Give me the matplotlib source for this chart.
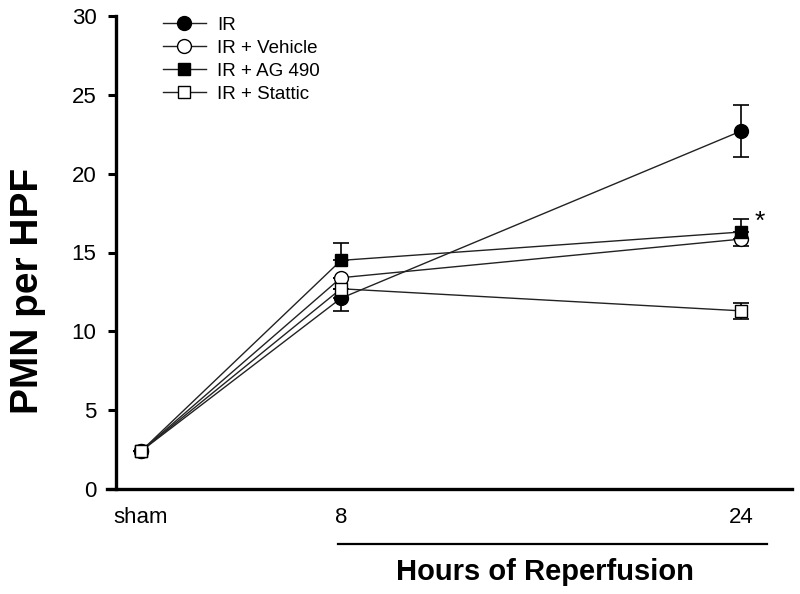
import matplotlib
matplotlib.use("Agg")
import matplotlib.pyplot as plt
import matplotlib.transforms as mtransforms

plt.rcParams['font.family'] = ['Liberation Sans', 'DejaVu Sans']

categories = ["sham", "8", "24"]
xpos = [0, 1, 3]

ir = [2.4, 12.1, 22.7]
ir_lo = [0.0, 0.8, 1.65]
ir_hi = [0.0, 0.0, 1.65]

vehicle = [2.4, 13.4, 15.85]
veh_lo = [0.0, 0.0, 0.45]
veh_hi = [0.0, 0.0, 0.0]

ag490 = [2.4, 14.5, 16.3]
ag_lo = [0.0, 0.0, 0.0]
ag_hi = [0.0, 1.1, 0.8]

stattic = [2.4, 12.7, 11.3]
st_lo = [0.0, 0.0, 0.5]
st_hi = [0.0, 0.0, 0.5]

series = [
    ("IR", ir, ir_lo, ir_hi, "o", "black", 10),
    ("IR + Vehicle", vehicle, veh_lo, veh_hi, "o", "white", 10),
    ("IR + AG 490", ag490, ag_lo, ag_hi, "s", "black", 9),
    ("IR + Stattic", stattic, st_lo, st_hi, "s", "white", 9),
]

fig = plt.figure(figsize=(8, 5.94), dpi=100)
ax = fig.add_axes([116/800, 1 - 489/594, (792 - 116)/800, (489 - 16)/594])

for i, (label, vals, lo, hi, m, fc, ms) in enumerate(series):
    ax.errorbar(xpos, vals, yerr=[lo, hi], fmt='none', ecolor='black',
                elinewidth=1.2, capsize=6, capthick=1.2, zorder=2 + i)
    ax.plot(xpos, vals, color='#222222', lw=1.0, marker=m, markersize=ms,
            markerfacecolor=fc, markeredgecolor='black', markeredgewidth=1.0,
            label=label, zorder=3 + i)

ax.set_xlim(-0.125, 3.255)
ax.set_ylim(0, 30)
ax.set_yticks([0, 5, 10, 15, 20, 25, 30])
ax.set_xticks(xpos)
ax.set_xticklabels(categories)
ax.tick_params(axis='y', labelsize=16, length=6, width=2.2, pad=8)
ax.tick_params(axis='x', labelsize=16, length=0, pad=13)
for s in ['top', 'right']:
    ax.spines[s].set_visible(False)
for s in ['left', 'bottom']:
    ax.spines[s].set_linewidth(2.4)
ax.spines['bottom'].set_bounds(-0.17, 3.255)

fig.text(28/800, 1 - 291/594, "PMN per HPF", rotation=90, ha='center',
         va='center', fontsize=28, fontweight='bold')

trans = mtransforms.blended_transform_factory(ax.transData, ax.transAxes)
ax.plot([0.985, 3.13], [-0.116, -0.116], color='black', lw=1.6,
        transform=trans, clip_on=False)
ax.text(2.02, -0.175, "Hours of Reperfusion", transform=trans, ha='center',
        va='center', fontsize=21, fontweight='bold')

ax.text(3.093, 16.95, "*", fontsize=19, ha='center', va='center')

leg = ax.legend(loc='upper left', bbox_to_anchor=(0.059, 1.015), frameon=False,
                fontsize=13.5, handlelength=2.25, handletextpad=0.62,
                labelspacing=0.32, borderaxespad=0)

fig.savefig("out.png", dpi=100)
